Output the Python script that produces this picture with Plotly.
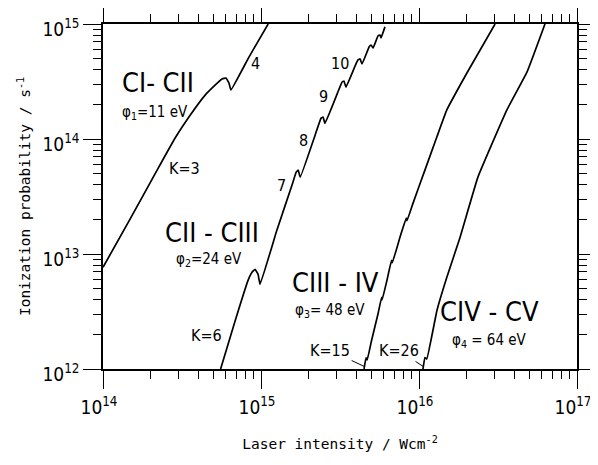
import plotly.graph_objects as go
import math

# ---- data ----
# CI-CII
c1_I = [1.00e14, 1.48e14, 2.20e14, 2.86e14, 3.56e14, 4.43e14, 5.12e14, 5.67e14, 6.00e14, 6.27e14, 6.45e14, 8.39e14, 1.11e15]
c1_P = [7.66e12, 2.00e13, 5.36e13, 1.02e14, 1.61e14, 2.41e14, 2.94e14, 3.33e14, 3.39e14, 3.07e14, 2.67e14, 5.16e14, 1.00e15]
# CII-CIII
c2_I = [5.55e14, 6.84e14, 8.28e14, 8.77e14, 9.17e14, 9.58e14, 9.86e14, 1.26e15, 1.57e15, 1.67e15, 1.72e15, 1.77e15,
        2.20e15, 2.40e15, 2.47e15, 2.54e15, 3.12e15, 3.26e15, 3.35e15, 3.45e15, 3.94e15, 4.11e15, 4.24e15, 4.36e15,
        4.83e15, 4.97e15, 5.12e15, 5.50e15, 5.66e15, 5.75e15, 6.09e15]
c2_P = [1.00e12, 2.59e12, 5.90e12, 6.93e12, 7.36e12, 6.66e12, 5.45e12, 1.61e13, 3.96e13, 5.15e13, 5.36e13, 4.66e13,
        1.08e14, 1.52e14, 1.55e14, 1.37e14, 2.72e14, 3.13e14, 3.19e14, 2.83e14, 4.32e14, 4.87e14, 4.97e14, 4.49e14,
        6.31e14, 6.57e14, 6.19e14, 7.87e14, 8.03e14, 7.57e14, 9.44e14]
# CIII-CIV
c3_I = [4.49e15, 4.62e15, 4.70e15, 5.00e15, 5.51e15, 5.80e15, 5.85e15, 6.27e15, 6.70e15, 6.78e15, 7.58e15, 8.30e15,
        8.40e15, 9.17e15, 1.09e16, 1.30e16, 1.50e16, 2.01e16, 3.03e16]
c3_P = [1.00e12, 1.25e12, 1.20e12, 1.75e12, 3.04e12, 4.20e12, 4.00e12, 5.91e12, 8.80e12, 8.40e12, 1.40e13, 2.05e13,
        1.95e13, 2.77e13, 5.36e13, 1.05e14, 1.79e14, 3.75e14, 1.00e15]
# CIV-CV
c4_I = [1.06e16, 1.09e16, 1.12e16, 1.30e16, 1.50e16, 1.82e16, 2.36e16, 3.60e16, 4.83e16, 6.27e16]
c4_P = [1.00e12, 1.26e12, 1.22e12, 3.24e12, 6.27e12, 1.40e13, 4.66e13, 1.79e14, 3.83e14, 1.00e15]

x_ticks = [1e14, 1e15, 1e16, 1e17]
x_ticktext = ["10<sup>14</sup>", "10<sup>15</sup>", "10<sup>16</sup>", "10<sup>17</sup>"]
y_ticks = [1e12, 1e13, 1e14, 1e15]
y_ticktext = ["10<sup>12</sup>", "10<sup>13</sup>", "10<sup>14</sup>", "10<sup>15</sup>"]

# labels: (text, intensity, probability)
big_labels = [("CI- CII", 2.23e14, 3.07e14), ("CII - CIII", 4.90e14, 1.55e13),
              ("CIII - IV", 2.94e15, 5.66e12), ("CIV - CV", 2.81e16, 3.17e12)]
phi_labels = [("φ<sub>1</sub>=11 eV", 2.13e14, 1.71e14), ("φ<sub>2</sub>=24 eV", 4.69e14, 9.00e12),
              ("φ<sub>3</sub>= 48 eV", 2.74e15, 3.23e12), ("φ<sub>4</sub> = 64 eV", 2.81e16, 1.77e12)]
k_labels = [("K=3", 3.26e14, 5.57e13), ("K=6", 4.55e14, 1.95e12)]
order_labels = [("4", 9.17e14, 4.58e14), ("7", 1.34e15, 3.96e13), ("8", 1.85e15, 9.77e13),
                ("9", 2.47e15, 2.32e14), ("10", 3.16e15, 4.58e14)]
leader_labels = [("K=15", 2.74e15, 1.45e12, 4.52e15, 1.05e12), ("K=26", 7.46e15, 1.45e12, 1.065e16, 1.05e12)]

LABEL_FONT = "DejaVu Sans Condensed"

fig = go.Figure()
for xs, ys in [(c1_I, c1_P), (c2_I, c2_P), (c3_I, c3_P), (c4_I, c4_P)]:
    fig.add_trace(go.Scatter(x=xs, y=ys, mode="lines", line=dict(color="black", width=1.7, shape="spline", smoothing=0.3),
                             showlegend=False, hoverinfo="skip", cliponaxis=True))

ann = []
for t, xv, yv in big_labels:
    ann.append(dict(text=t, x=math.log10(xv), y=math.log10(yv), showarrow=False,
                    font=dict(family=LABEL_FONT, size=27, color="black")))
for t, xv, yv in phi_labels:
    ann.append(dict(text=t, x=math.log10(xv), y=math.log10(yv), showarrow=False,
                    font=dict(family=LABEL_FONT, size=15, color="black")))
for t, xv, yv in k_labels + order_labels:
    ann.append(dict(text=t, x=math.log10(xv), y=math.log10(yv), showarrow=False,
                    font=dict(family=LABEL_FONT, size=16, color="black")))
for t, xv, yv, px, py in leader_labels:
    ann.append(dict(text=t, x=math.log10(px), y=math.log10(py), ax=math.log10(xv), ay=math.log10(yv),
                    axref="x", ayref="y", showarrow=True, arrowhead=0, arrowwidth=1, arrowcolor="black",
                    font=dict(family=LABEL_FONT, size=16, color="black")))

minor_x = [m * 10 ** e for e in (14, 15, 16) for m in range(2, 10)]
minor_y = [m * 10 ** e for e in (12, 13, 14) for m in range(2, 10)]

axis_common = dict(type="log", showline=True, linecolor="black", linewidth=1.5, mirror="allticks",
                   ticks="outside", ticklen=18, tickwidth=1.3, tickcolor="black", showgrid=False, zeroline=False,
                   automargin=False,
                   tickfont=dict(family=LABEL_FONT, size=19, color="black"))

# the page body adds an 8 px offset, so the figure is 8 px smaller each way
fig.update_layout(
    width=590, height=457, margin=dict(l=95, r=21, t=16, b=96),
    paper_bgcolor="white", plot_bgcolor="white",
    xaxis=dict(range=[14, 17], tickvals=x_ticks, ticktext=x_ticktext, ticklabelshift=-4, ticklabelstandoff=2,
               minor=dict(tickvals=minor_x, ticks="outside", ticklen=8, tickwidth=1, tickcolor="black"),
               title=dict(text="Laser intensity / Wcm<sup>-2</sup>", standoff=22,
                          font=dict(family="DejaVu Sans Mono", size=14.5, color="black")),
               **axis_common),
    yaxis=dict(range=[12, 15], tickvals=y_ticks, ticktext=y_ticktext, ticklabelshift=5,
               minor=dict(tickvals=minor_y, ticks="outside", ticklen=8, tickwidth=1, tickcolor="black"),
               title=dict(text="Ionization probability / s<sup>-1</sup>", standoff=8,
                          font=dict(family="DejaVu Sans Mono", size=14.5, color="black")),
               **axis_common),
    annotations=ann,
)

fig.write_html("out.html")
